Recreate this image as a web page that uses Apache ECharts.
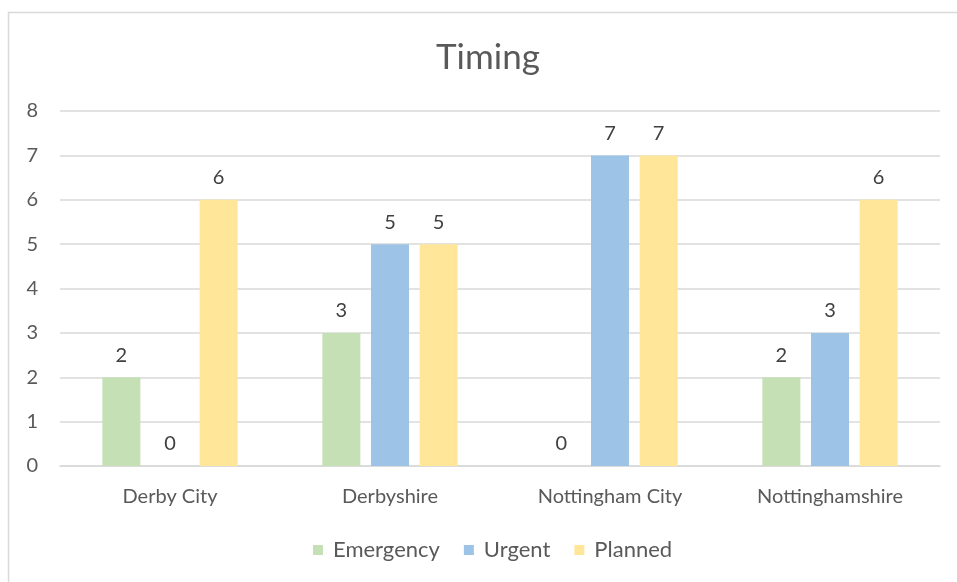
<!DOCTYPE html>
<html><head><meta charset="utf-8">
<script src="https://cdn.jsdelivr.net/npm/echarts@6/dist/echarts.min.js"></script>
<style>html,body{margin:0;padding:0;background:#fff}#c{width:957px;height:582px}</style>
</head><body><div id="c"></div>
<script>
const categories = ["Derby City", "Derbyshire", "Nottingham City", "Nottinghamshire"];
const emergency = [2, 3, 0, 2];
const urgent = [0, 5, 7, 3];
const planned = [6, 5, 7, 6];
const seriesNames = ["Emergency", "Urgent", "Planned"];
const colors = ["#C5E0B4", "#9DC3E6", "#FFE699"];
const font = "Lato, 'Open Sans', sans-serif";
const chart = echarts.init(document.getElementById('c'));
const lbl = {show: true, position: 'top', distance: 12, color: '#404040', fontSize: 20, fontFamily: font};
chart.setOption({
  animation: false,
  graphic: [{type: 'rect', shape: {x: 8.5, y: 12.5, width: 1000, height: 1000}, style: {fill: 'none', stroke: '#d9d9d9', lineWidth: 1.5}}],
  title: {text: 'Timing', left: 431, top: 35, textStyle: {fontFamily: font, fontSize: 35, fontWeight: 'normal', color: '#595959'}},
  legend: {left: 308, bottom: 16, itemWidth: 10, itemHeight: 10, itemGap: 24, icon: 'rect',
    textStyle: {fontFamily: font, fontSize: 22, color: '#595959', padding: [0, 0, 0, 5]}, data: seriesNames},
  grid: {left: 60, right: 17, top: 111, bottom: 116},
  xAxis: {type: 'category', data: categories,
    axisLine: {lineStyle: {color: '#d9d9d9', width: 1.5}}, axisTick: {show: false},
    axisLabel: {fontFamily: font, fontSize: 20, color: '#595959', margin: 21}},
  yAxis: {type: 'value', min: 0, max: 8, interval: 1,
    splitLine: {lineStyle: {color: '#d9d9d9', width: 1.5}},
    axisLabel: {fontFamily: font, fontSize: 20, color: '#595959', margin: 22}},
  series: [
    {name: seriesNames[0], type: 'bar', data: emergency, itemStyle: {color: colors[0]}, barWidth: 38, barGap: '28%', label: lbl},
    {name: seriesNames[1], type: 'bar', data: urgent, itemStyle: {color: colors[1]}, barWidth: 38, barGap: '28%', label: lbl},
    {name: seriesNames[2], type: 'bar', data: planned, itemStyle: {color: colors[2]}, barWidth: 38, barGap: '28%', label: lbl}
  ]
});
</script></body></html>
